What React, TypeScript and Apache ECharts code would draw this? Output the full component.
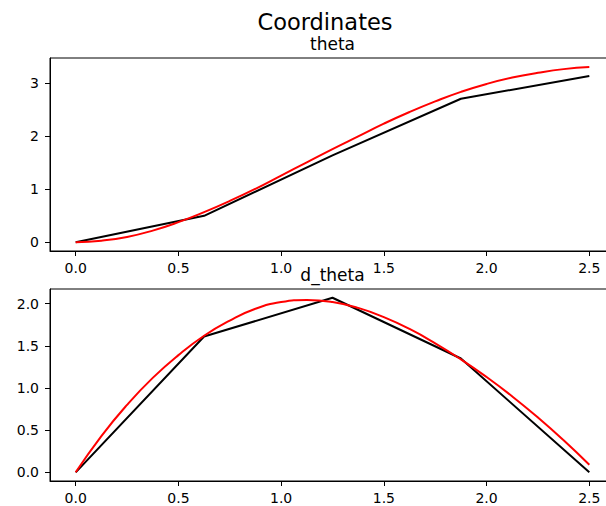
import React, { useEffect, useRef } from "react";
import * as echarts from "echarts";

const xCoarse = [0, 0.625, 1.25, 1.875, 2.5];
const thetaCoarse = [0, 0.5, 1.64, 2.71, 3.14];
const dThetaCoarse = [0, 1.61, 2.07, 1.35, 0.0];

const xFine = [0, 0.125, 0.25, 0.375, 0.5, 0.625, 0.75, 0.875, 1.0, 1.125, 1.25, 1.375, 1.5, 1.625, 1.75, 1.875, 2.0, 2.125, 2.25, 2.375, 2.5];
const thetaFine = [0, 0.03, 0.1, 0.22, 0.38, 0.57, 0.78, 1.01, 1.26, 1.51, 1.76, 2.0, 2.24, 2.46, 2.66, 2.84, 2.99, 3.11, 3.2, 3.27, 3.31];
const dThetaFine = [0, 0.43, 0.8, 1.12, 1.39, 1.62, 1.8, 1.94, 2.02, 2.045, 2.02, 1.95, 1.84, 1.7, 1.53, 1.34, 1.13, 0.9, 0.65, 0.38, 0.09];

const xTicks = [0, 0.5, 1, 1.5, 2, 2.5];
const yTicksTop = [0, 1, 2, 3];
const yTicksBottom = [0, 0.5, 1, 1.5, 2];

const FONT = "DejaVu Sans";

function pairs(xs: number[], ys: number[]) {
  return xs.map((x, i) => [x, ys[i]]);
}

export default function App() {
  const ref = useRef<HTMLDivElement>(null);
  useEffect(() => {
    if (!ref.current) return;
    const chart = echarts.init(ref.current, null, { renderer: "svg" });
    const xAxisBase = (gridIndex: number) => ({
      type: "value",
      gridIndex,
      min: -0.125,
      max: 2.625,
      axisLine: { show: true, onZero: false, lineStyle: { color: "#000", width: 1 } },
      axisTick: { show: true, inside: false, length: 5, customValues: xTicks, lineStyle: { color: "#000", width: 1 } },
      axisLabel: {
        show: true,
        customValues: xTicks,
        formatter: (v: number) => v.toFixed(1),
        color: "#000",
        fontFamily: FONT,
        fontSize: 14,
        margin: 10,
      },
      splitLine: { show: false },
    });
    const yAxisBase = (gridIndex: number, min: number, max: number, ticks: number[], fmt: (v: number) => string) => ({
      type: "value",
      gridIndex,
      min,
      max,
      axisLine: { show: true, onZero: false, lineStyle: { color: "#000", width: 1 } },
      axisTick: { show: true, inside: false, length: 5, customValues: ticks, lineStyle: { color: "#000", width: 1 } },
      axisLabel: {
        show: true,
        customValues: ticks,
        formatter: fmt,
        color: "#000",
        fontFamily: FONT,
        fontSize: 14,
        margin: 11,
      },
      splitLine: { show: false },
    });
    chart.setOption({
      animation: false,
      backgroundColor: "#fff",
      grid: [
        { left: 50, top: 58, width: 565, height: 193, show: true, borderColor: "#000", borderWidth: 1, backgroundColor: "transparent", containLabel: false, outerBoundsMode: "none" },
        { left: 50, top: 289, width: 565, height: 192, show: true, borderColor: "#000", borderWidth: 1, backgroundColor: "transparent", containLabel: false, outerBoundsMode: "none" },
      ],
      xAxis: [xAxisBase(0), xAxisBase(1)],
      yAxis: [
        yAxisBase(0, -0.165, 3.48, yTicksTop, (v: number) => String(v)),
        yAxisBase(1, -0.103, 2.174, yTicksBottom, (v: number) => v.toFixed(1)),
      ],
      graphic: [
        { type: "text", x: 325, y: 22, style: { text: "Coordinates", fill: "#000", font: `22.5px "${FONT}"`, textAlign: "center", textVerticalAlign: "middle" } },
        { type: "text", x: 332.5, y: 44, style: { text: "theta", fill: "#000", font: `17px "${FONT}"`, textAlign: "center", textVerticalAlign: "middle" } },
        { type: "text", x: 332.5, y: 275, z: 100, style: { text: "d_theta", fill: "#000", font: `17px "${FONT}"`, textAlign: "center", textVerticalAlign: "middle" } },
      ],
      series: [
        { type: "line", xAxisIndex: 0, yAxisIndex: 0, data: pairs(xCoarse, thetaCoarse), showSymbol: false, lineStyle: { color: "#000", width: 2 }, itemStyle: { color: "#000" } },
        { type: "line", xAxisIndex: 0, yAxisIndex: 0, data: pairs(xFine, thetaFine), smooth: true, showSymbol: false, lineStyle: { color: "#ff0000", width: 2 }, itemStyle: { color: "#ff0000" } },
        { type: "line", xAxisIndex: 1, yAxisIndex: 1, data: pairs(xCoarse, dThetaCoarse), showSymbol: false, lineStyle: { color: "#000", width: 2 }, itemStyle: { color: "#000" } },
        { type: "line", xAxisIndex: 1, yAxisIndex: 1, data: pairs(xFine, dThetaFine), smooth: true, showSymbol: false, lineStyle: { color: "#ff0000", width: 2 }, itemStyle: { color: "#ff0000" } },
      ],
    });
    return () => chart.dispose();
  }, []);
  return (
    <div style={{ position: "absolute", left: 0, top: 0, width: 606, height: 506, overflow: "hidden" }}>
      <div ref={ref} style={{ width: 620, height: 540 }} />
    </div>
  );
}
